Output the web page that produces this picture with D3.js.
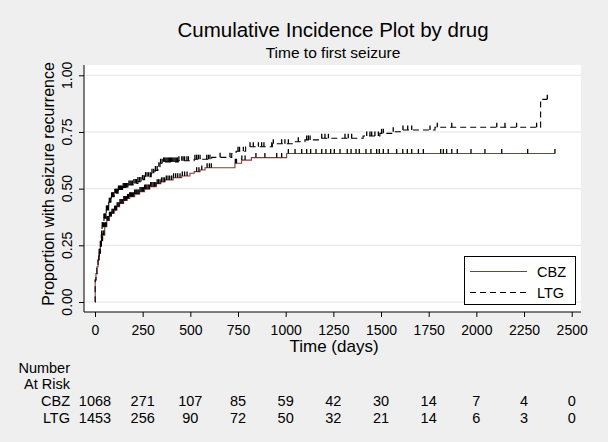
<!DOCTYPE html>
<html>
<head>
<meta charset="utf-8">
<script src="https://cdn.jsdelivr.net/npm/d3@7"></script>
<style>
  body { margin: 0; background: #efefef; }
  svg { display: block; font-family: "Liberation Sans", Arial, sans-serif; }
</style>
</head>
<body>
<svg id="chart" width="608" height="442"></svg>
<script>
// Data
const groups = ["CBZ", "LTG"];
const yTicks = [0, 0.25, 0.5, 0.75, 1];
const riskTimes = [0, 250, 500, 750, 1000, 1250, 1500, 1750, 2000, 2250, 2500];
const riskCBZ = [1068, 271, 107, 85, 59, 42, 30, 14, 7, 4, 0];
const riskLTG = [1453, 256, 90, 72, 50, 32, 21, 14, 6, 3, 0];

// step curves: time (days) and cumulative incidence
const cbzTime = [0, 1, 5, 10, 16, 22, 28, 33, 40, 51, 62, 75, 86, 100, 115, 129, 150, 168, 182, 208,
  234, 260, 287, 321, 345, 367, 410, 455, 498, 520, 551, 577, 734, 769, 820, 1005, 2413];
const cbzCum = [0, 0.097, 0.125, 0.155, 0.185, 0.215, 0.245, 0.27, 0.295, 0.332, 0.36, 0.378, 0.391, 0.405, 0.42, 0.435, 0.448, 0.457, 0.464, 0.476,
  0.487, 0.498, 0.509, 0.522, 0.53, 0.538, 0.548, 0.556, 0.568, 0.575, 0.582, 0.592, 0.612, 0.626, 0.637, 0.655, 0.655];

const ltgTime = [0, 1, 5, 10, 16, 22, 28, 33, 37, 47, 59, 72, 86, 100, 121, 145, 173, 200, 225, 245,
  260, 295, 315, 330, 341, 360, 437, 520, 612, 717, 740, 790, 930, 1040, 1101, 1180, 1406, 1494, 1556, 1600,
  1783, 2337, 2372];
const ltgCum = [0, 0.097, 0.125, 0.155, 0.185, 0.215, 0.25, 0.295, 0.332, 0.37, 0.406, 0.44, 0.464, 0.48, 0.494, 0.505, 0.516, 0.523, 0.531, 0.54,
  0.553, 0.568, 0.58, 0.597, 0.612, 0.618, 0.623, 0.63, 0.638, 0.655, 0.665, 0.685, 0.698, 0.707, 0.715, 0.722, 0.732, 0.744, 0.751, 0.759,
  0.771, 0.894, 0.894];

// censoring times
const cbzCensor = [22, 27, 31, 35, 39, 43, 47, 51, 55, 59, 63, 67, 72, 76, 80, 85, 89, 94, 98, 103,
  107, 112, 116, 121, 126, 131, 136, 141, 146, 151, 156, 161, 166, 171, 176, 182, 187, 192, 197, 203,
  208, 214, 219, 225, 230, 236, 242, 248, 254, 260, 266, 272, 279, 285, 292, 298, 305, 312, 319, 326,
  333, 341, 349, 357, 365, 374, 383, 392, 402, 412, 423, 434, 446, 458, 470, 483, 533, 545, 560, 588,
  600, 610, 736, 742, 770, 787, 844, 891, 953, 979, 1014, 1049, 1084, 1110, 1131, 1159, 1189, 1211, 1236, 1255,
  1285, 1323, 1343, 1369, 1386, 1421, 1447, 1477, 1491, 1512, 1538, 1582, 1614, 1638, 1661, 1696, 1722, 1813, 1827, 1844,
  1871, 1900, 1972, 2045, 2133, 2269, 2412];
const ltgCensor = [20, 24, 28, 32, 35, 38, 41, 44, 47, 50, 53, 57, 60, 64, 67, 71, 75, 79, 83, 87,
  91, 95, 99, 104, 108, 113, 118, 123, 128, 133, 138, 143, 148, 154, 160, 166, 172, 178, 184, 190,
  197, 204, 211, 218, 225, 233, 241, 249, 257, 265, 273, 281, 290, 299, 308, 317, 326, 335, 344, 352,
  360, 366, 372, 378, 384, 390, 396, 402, 408, 414, 420, 426, 432, 440, 455, 462, 470, 482, 490, 524,
  533, 542, 551, 586, 595, 603, 656, 708, 750, 758, 778, 813, 830, 857, 874, 886, 927, 935, 979, 996,
  1014, 1066, 1110, 1119, 1128, 1189, 1206, 1224, 1311, 1328, 1346, 1425, 1442, 1451, 1468, 1486, 1503, 1512, 1564, 1615,
  1640, 1661, 1757, 1795, 1871, 2107, 2150, 2211, 2316, 2372];

// Chart
const svg = d3.select("#chart");
const plot = { left: 84, right: 581, top: 65, bottom: 312 };

svg.append("rect").attr("width", 608).attr("height", 442).attr("fill", "#efefef");
svg.append("rect")
  .attr("x", plot.left).attr("y", plot.top)
  .attr("width", plot.right - plot.left).attr("height", plot.bottom - plot.top)
  .attr("fill", "#fff");

// Scales
const xScale = d3.scaleLinear().domain([0, 2500]).range([95, 571.7]);
const yScale = d3.scaleLinear().domain([0, 1]).range([302, 75.3]);

// Gridlines
svg.append("g").selectAll("line").data(yTicks).enter().append("line")
  .attr("x1", plot.left + 1).attr("x2", plot.right)
  .attr("y1", (d) => yScale(d)).attr("y2", (d) => yScale(d))
  .attr("stroke", "#e4e4e4").attr("stroke-width", 1);

// Axes
const yAxis = d3.axisLeft(yScale).tickValues(yTicks).tickSize(5).tickFormat("");
const gy = svg.append("g").attr("transform", `translate(${plot.left}, 0)`).call(yAxis);
gy.select(".domain").remove();
gy.selectAll("line").attr("stroke", "#000");

svg.append("g").selectAll("text").data(yTicks).enter().append("text")
  .attr("transform", (d) => `translate(72, ${yScale(d)}) rotate(-90)`)
  .attr("text-anchor", "middle").attr("font-size", 14).attr("fill", "#000")
  .text(d3.format(".2f"));

svg.append("line")
  .attr("x1", plot.left).attr("x2", plot.left)
  .attr("y1", plot.top).attr("y2", plot.bottom)
  .attr("stroke", "#000");

const xAxis = d3.axisBottom(xScale).tickValues(riskTimes).tickSize(5).tickFormat(d3.format("d"));
const gx = svg.append("g").attr("transform", `translate(0, ${plot.bottom})`).call(xAxis)
  .attr("font-family", null).attr("font-size", 14);
gx.select(".domain").remove();
gx.selectAll("line").attr("stroke", "#000");
gx.selectAll("text")
  .attr("y", 23).attr("dy", null).attr("fill", "#000");

svg.append("line")
  .attr("x1", plot.left).attr("x2", plot.right)
  .attr("y1", plot.bottom).attr("y2", plot.bottom)
  .attr("stroke", "#000");

// Titles
svg.append("text").attr("x", 333).attr("y", 37).attr("text-anchor", "middle")
  .attr("font-size", 20.5).attr("fill", "#000")
  .text("Cumulative Incidence Plot by drug");
svg.append("text").attr("x", 333).attr("y", 58).attr("text-anchor", "middle")
  .attr("font-size", 15.5).attr("fill", "#000")
  .text("Time to first seizure");
svg.append("text").attr("x", 334).attr("y", 352).attr("text-anchor", "middle")
  .attr("font-size", 17).attr("fill", "#000")
  .text("Time (days)");
svg.append("text")
  .attr("transform", "translate(54, 184) rotate(-90)")
  .attr("text-anchor", "middle").attr("font-size", 16).attr("fill", "#000")
  .text("Proportion with seizure recurrence");

// Curves
const line = d3.line()
  .x((d) => xScale(d[0]))
  .y((d) => yScale(d[1]))
  .curve(d3.curveStepAfter);

const cbzData = cbzTime.map((t, i) => [t, cbzCum[i]]);
const ltgData = ltgTime.map((t, i) => [t, ltgCum[i]]);

svg.append("path").datum(cbzData)
  .attr("d", line).attr("fill", "none")
  .attr("stroke", "#853a3a").attr("stroke-width", 1.1);

svg.append("path").datum(ltgData)
  .attr("d", line).attr("fill", "none")
  .attr("stroke", "#000").attr("stroke-width", 1.1)
  .attr("stroke-dasharray", "6,4");

// Censor ticks
function valueAt(times, cums, t) {
  const i = Math.max(0, d3.bisectRight(times, t) - 1);
  return cums[i];
}

function drawCensors(censors, times, cums) {
  svg.append("g").selectAll("line").data(censors).enter().append("line")
    .attr("x1", (d) => xScale(d)).attr("x2", (d) => xScale(d))
    .attr("y1", (d) => yScale(valueAt(times, cums, d)))
    .attr("y2", (d) => yScale(valueAt(times, cums, d)) - 4.5)
    .attr("stroke", "#000").attr("stroke-width", 1.3);
}
drawCensors(cbzCensor, cbzTime, cbzCum);
drawCensors(ltgCensor, ltgTime, ltgCum);

// Legend
const legend = svg.append("g");
legend.append("rect")
  .attr("x", 464.5).attr("y", 256.5).attr("width", 111).attr("height", 48)
  .attr("fill", "#fff").attr("stroke", "#000");
legend.append("line")
  .attr("x1", 470).attr("x2", 527).attr("y1", 271.5).attr("y2", 271.5)
  .attr("stroke", "#853a3a").attr("stroke-width", 1.1);
legend.append("line")
  .attr("x1", 470).attr("x2", 527).attr("y1", 292.5).attr("y2", 292.5)
  .attr("stroke", "#000").attr("stroke-width", 1.1).attr("stroke-dasharray", "6,4");
legend.selectAll("text").data(groups).enter().append("text")
  .attr("x", 537).attr("y", (d, i) => 277 + i * 21)
  .attr("font-size", 14.5).attr("fill", "#000")
  .text((d) => d);

// Number at risk table
const risk = svg.append("g").attr("font-size", 14.5).attr("fill", "#000");
risk.append("text").attr("x", 70).attr("y", 373).attr("text-anchor", "end").text("Number");
risk.append("text").attr("x", 70).attr("y", 389).attr("text-anchor", "end").text("At Risk");

[riskCBZ, riskLTG].forEach((row, r) => {
  const yy = 406 + r * 17;
  risk.append("text").attr("x", 70).attr("y", yy).attr("text-anchor", "end").text(groups[r]);
  risk.selectAll(".r" + r).data(row).enter().append("text")
    .attr("class", "r" + r)
    .attr("x", (d, i) => xScale(riskTimes[i]))
    .attr("y", yy)
    .attr("text-anchor", "middle")
    .text((d) => d);
});
</script>
</body>
</html>
